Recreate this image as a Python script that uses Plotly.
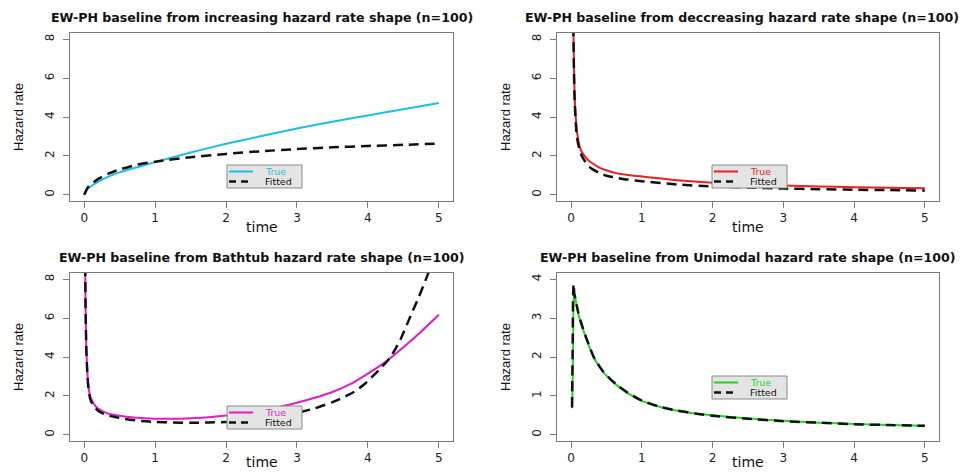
import plotly.graph_objects as go

W, H = 962, 472

# ---------------- data ----------------
titles = [
    "EW-PH baseline from increasing hazard rate shape (n=100)",
    "EW-PH baseline from deccreasing hazard rate shape (n=100)",
    "EW-PH baseline from Bathtub hazard rate shape (n=100)",
    "EW-PH baseline from Unimodal hazard rate shape (n=100)",
]
x_ticks = [0, 1, 2, 3, 4, 5]
y_ticks_a = [0, 2, 4, 6, 8]
y_ticks_b = [0, 1, 2, 3, 4]

# Panel 1: increasing
t1 = [0, 0.05, 0.1, 0.2, 0.35, 0.5, 0.75, 1, 1.5, 2, 2.5, 3, 3.5, 4, 4.5, 5]
true1 = [0, 0.3, 0.45, 0.68, 0.95, 1.15, 1.42, 1.68, 2.17, 2.62, 3.02, 3.41, 3.76, 4.08, 4.4, 4.72]
fit1 = [0, 0.38, 0.55, 0.82, 1.1, 1.3, 1.55, 1.7, 1.93, 2.1, 2.24, 2.35, 2.44, 2.51, 2.57, 2.63]

# Panel 2: decreasing
t2 = [0.028, 0.04, 0.05, 0.065, 0.08, 0.1, 0.12, 0.15, 0.2, 0.25, 0.3, 0.4, 0.5, 0.65, 0.8, 1,
      1.5, 2, 2.5, 3, 3.5, 4, 4.5, 5]
true2 = [9.5, 6.5, 5.0, 4.0, 3.3, 2.85, 2.5, 2.2, 1.95, 1.75, 1.62, 1.4, 1.26, 1.1, 1.02, 0.94,
         0.75, 0.62, 0.54, 0.48, 0.43, 0.39, 0.36, 0.33]
fit2 = [9.5, 6.3, 4.8, 3.7, 3.0, 2.6, 2.3, 2.0, 1.7, 1.45, 1.32, 1.12, 0.98, 0.87, 0.78, 0.7,
        0.53, 0.43, 0.37, 0.32, 0.29, 0.26, 0.24, 0.22]

# Panel 3: bathtub
t3 = [0.012, 0.02, 0.03, 0.045, 0.06, 0.085, 0.12, 0.165, 0.22, 0.33, 0.45, 0.57, 0.75, 1,
      1.25, 1.5, 1.75, 2, 2.25, 2.5, 2.75, 3, 3.25, 3.5, 3.75, 4, 4.25, 4.5, 4.75, 5]
true3 = [9.5, 6.5, 4.5, 3.2, 2.5, 1.97, 1.7, 1.45, 1.3, 1.1, 1.0, 0.94, 0.87, 0.83,
         0.82, 0.85, 0.9, 0.99, 1.1, 1.25, 1.43, 1.65, 1.9, 2.2, 2.6, 3.15, 3.75, 4.5, 5.3, 6.17]
t3f = [0.012, 0.02, 0.03, 0.045, 0.06, 0.085, 0.12, 0.165, 0.22, 0.33, 0.45, 0.57, 0.75, 1,
       1.25, 1.5, 1.75, 2, 2.25, 2.5, 2.75, 3, 3.25, 3.5, 3.65, 3.8, 3.95, 4.08, 4.2, 4.32,
       4.46, 4.6, 4.72, 4.84, 4.9]
fit3 = [9.5, 6.4, 4.4, 3.1, 2.4, 1.85, 1.55, 1.35, 1.18, 1.0, 0.9, 0.82, 0.73, 0.66,
        0.63, 0.62, 0.63, 0.66, 0.72, 0.82, 0.95, 1.12, 1.36, 1.68, 1.92, 2.2, 2.6, 3.05, 3.5, 4.0,
        4.9, 6.1, 7.1, 8.2, 8.8]

# Panel 4: unimodal
t4 = [0.015, 0.028, 0.04, 0.05, 0.06, 0.08, 0.1, 0.13, 0.17, 0.22, 0.27, 0.32, 0.4, 0.46, 0.55,
      0.65, 0.8, 1, 1.25, 1.5, 1.75, 2, 2.5, 3, 3.5, 4, 4.5, 5]
true4 = [0.68, 2.3, 3.6, 3.58, 3.5, 3.3, 3.12, 2.92, 2.7, 2.44, 2.2, 1.98, 1.75, 1.6, 1.43,
         1.27, 1.07, 0.87, 0.72, 0.62, 0.55, 0.5, 0.42, 0.36, 0.31, 0.28, 0.25, 0.23]
t4f = [0.012, 0.02, 0.028, 0.035, 0.045, 0.06, 0.08, 0.1, 0.13, 0.17, 0.22, 0.27, 0.32, 0.4, 0.46,
       0.55, 0.65, 0.8, 1, 1.25, 1.5, 1.75, 2, 2.5, 3, 3.5, 4, 4.5, 5]
fit4 = [0.7, 2.0, 3.6, 3.88, 3.62, 3.5, 3.32, 3.15, 2.95, 2.72, 2.46, 2.22, 2.0, 1.76, 1.61,
        1.44, 1.28, 1.08, 0.88, 0.72, 0.62, 0.55, 0.49, 0.41, 0.35, 0.31, 0.27, 0.25, 0.23]

true_colors = ["#1CBDE8", "#EE1C24", "#E41BC4", "#22D422"]

panels = [
    (t1, true1, t1, fit1, y_ticks_a, [-0.32, 8.32]),
    (t2, true2, t2, fit2, y_ticks_a, [-0.32, 8.32]),
    (t3, true3, t3f, fit3, y_ticks_a, [-0.32, 8.32]),
    (t4, true4, t4f, fit4, y_ticks_b, [-0.16, 4.16]),
]

# ---------------- layout geometry (pixels) ----------------
boxes = [  # left, right, top, bottom
    (70, 453, 33, 201),
    (557, 939, 33, 201),
    (70, 453, 273, 441),
    (557, 939, 273, 441),
]
title_shift = [0, -6, 0, 0]
legend_boxes = [
    (227, 302, 165, 188),
    (712, 787, 165, 188),
    (227, 302, 406, 429),
    (712, 787, 376, 399),
]
xlabel_y = [227, 227, 462, 462]


def px(x):
    return x / W


def py(y):
    return 1 - y / H


fig = go.Figure()
annotations = []
shapes = []
FONT = "DejaVu Sans"

for i, (tt, tv, tf, fv, yt, yr) in enumerate(panels):
    n = "" if i == 0 else str(i + 1)
    xa, ya = "x" + n, "y" + n
    fig.add_trace(go.Scatter(x=tt, y=tv, mode="lines", xaxis=xa, yaxis=ya,
                             line=dict(color=true_colors[i], width=2, shape="spline", smoothing=0.6),
                             showlegend=False))
    fig.add_trace(go.Scatter(x=tf, y=fv, mode="lines", xaxis=xa, yaxis=ya,
                             line=dict(color="#111111", width=2.5, dash="10px,6px", shape="spline", smoothing=0.6),
                             showlegend=False))
    l, r, t, b = boxes[i]
    axcommon = dict(showgrid=False, zeroline=False, showline=True, mirror=True,
                    linecolor="#7a7a7a", linewidth=1, ticks="outside", ticklen=6,
                    tickcolor="#7a7a7a", tickfont=dict(family=FONT, size=12, color="#222"))
    fig.update_layout(**{
        "xaxis" + n: dict(domain=[px(l), px(r)], range=[-0.2, 5.2], tickvals=x_ticks,
                          anchor=ya, **axcommon),
        "yaxis" + n: dict(domain=[py(b), py(t)], range=yr, tickvals=yt, anchor=xa,
                          tickangle=-90, ticklabelstandoff=4, **axcommon),
    })
    cx = (l + r) / 2
    annotations.append(dict(text="<b>" + titles[i] + "</b>", x=px(cx + title_shift[i]), y=py(t - 16),
                            xref="paper", yref="paper", showarrow=False, xanchor="center",
                            yanchor="middle", font=dict(family=FONT, size=12.6, color="#111")))
    annotations.append(dict(text="time", x=px(cx), y=py(xlabel_y[i]), xref="paper", yref="paper",
                            showarrow=False, xanchor="center", yanchor="middle",
                            font=dict(family=FONT, size=14, color="#111")))
    annotations.append(dict(text="Hazard rate", x=px(l - 52), y=py((t + b) / 2), xref="paper",
                            yref="paper", showarrow=False, textangle=-90, xanchor="center",
                            yanchor="middle",
                            font=dict(family="Liberation Sans Narrow, Liberation Sans", size=13, color="#111")))
    # legend
    ll, lr, lt, lb = legend_boxes[i]
    shapes.append(dict(type="rect", xref="paper", yref="paper", x0=px(ll), x1=px(lr),
                       y0=py(lb), y1=py(lt), fillcolor="#e4e4e4",
                       line=dict(color="#8a8a8a", width=1), layer="above"))
    y_true = lt + 6.5
    y_fit = lt + 16.5
    shapes.append(dict(type="line", xref="paper", yref="paper", x0=px(ll + 2), x1=px(ll + 26),
                       y0=py(y_true), y1=py(y_true), line=dict(color=true_colors[i], width=2),
                       layer="above"))
    shapes.append(dict(type="line", xref="paper", yref="paper", x0=px(ll + 2), x1=px(ll + 26),
                       y0=py(y_fit), y1=py(y_fit), line=dict(color="#111", width=2.5, dash="7px,5px"),
                       layer="above"))
    annotations.append(dict(text="True", x=px(ll + 36), y=py(y_true), xref="paper", yref="paper",
                            showarrow=False, xanchor="left", yanchor="middle",
                            font=dict(family=FONT, size=9.5, color=true_colors[i])))
    annotations.append(dict(text="Fitted", x=px(ll + 36), y=py(y_fit), xref="paper", yref="paper",
                            showarrow=False, xanchor="left", yanchor="middle",
                            font=dict(family=FONT, size=9.5, color="#111")))

fig.update_layout(width=W, height=H, margin=dict(l=0, r=0, t=0, b=0),
                  paper_bgcolor="white", plot_bgcolor="white",
                  annotations=annotations, shapes=shapes, showlegend=False)

fig.write_html("out.html")
